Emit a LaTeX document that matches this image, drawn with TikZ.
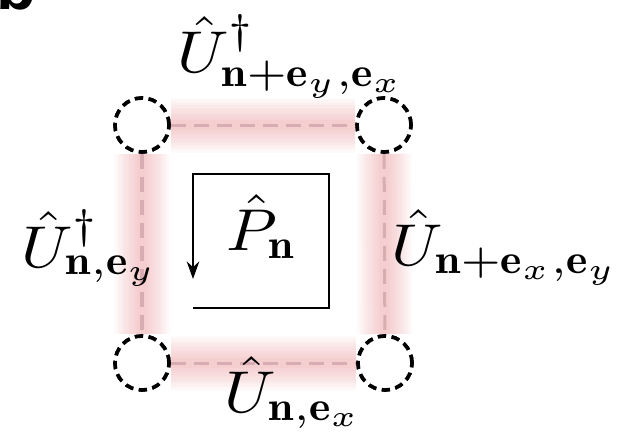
\documentclass[tikz,border=0pt]{standalone}
\usepackage{amsmath}
\usepackage{fontspec}
\newfontfamily\labfont{Liberation Sans}
\usetikzlibrary{arrows.meta}
\definecolor{glowc}{RGB}{225,110,115}
\definecolor{linkc}{RGB}{215,172,178}
\tikzset{
  site/.style={circle, draw=black, line width=1.45pt, dash pattern=on 3.3pt off 2.2pt, minimum size=21.6pt, inner sep=0pt, fill=white},
  glow/.style={draw=glowc, opacity=0.04, line width=#1, line cap=butt},
  link/.style={draw=linkc, line width=1.2pt, dash pattern=on 6pt off 3.2pt},
  lab/.style={anchor=base west, inner sep=0pt, xscale=2.6, yscale=2.36, transform shape},
  loopline/.style={line width=1pt, -{Stealth[length=7pt,width=5pt]}}
}
\begin{document}
\begin{tikzpicture}[x=0.4pt,y=-0.4pt]
\useasboundingbox (0,0) rectangle (642,434);
% sites
\node[site] (a) at (142,125) {};
\node[site] (b) at (384,125) {};
\node[site] (c) at (142,363) {};
\node[site] (d) at (385,363) {};
% glow
\foreach \w in {22pt,20pt,18pt,16pt,14pt,12pt,10pt,8pt,6pt,4pt}{
  \path[glow=\w] (a) -- (b);
  \path[glow=\w] (c) -- (d);
  \path[glow=\w] (a) -- (c);
  \path[glow=\w] (b) -- (d);
}
% links
\path[link] (a) -- (b);
\path[link] (c) -- (d);
\path[link] (a) -- (c);
\path[link] (b) -- (d);
% redraw sites on top
\node[site] at (a) {};
\node[site] at (b) {};
\node[site] at (c) {};
\node[site] at (d) {};
% plaquette loop
\coordinate (p1) at (193,308);
\coordinate (p2) at (329,308);
\coordinate (p3) at (329,174);
\coordinate (p4) at (193,174);
\coordinate (p5) at (193,279);
\draw[loopline] (p1) -- (p2) -- (p3) -- (p4) -- (p5);
% labels
\node[lab] (lt) at (176,72) {$\hat U^\dagger_{\mathbf n+\mathbf e_y,\mathbf e_x}$};
\node[lab] (ll) at (20,267) {$\hat U^\dagger_{\mathbf n,\mathbf e_y}$};
\node[lab] (lr) at (390,265) {$\hat U_{\mathbf n+\mathbf e_x,\mathbf e_y}$};
\node[lab] (lb) at (223,412) {$\hat U_{\mathbf n,\mathbf e_x}$};
\node[lab] (lp) at (225,250) {$\hat P_{\mathbf n}$};
\node[anchor=base west, inner sep=0pt, font=\labfont\bfseries\fontsize{26pt}{26pt}\selectfont] (panel) at (-4,9) {b};
\end{tikzpicture}
\end{document}
